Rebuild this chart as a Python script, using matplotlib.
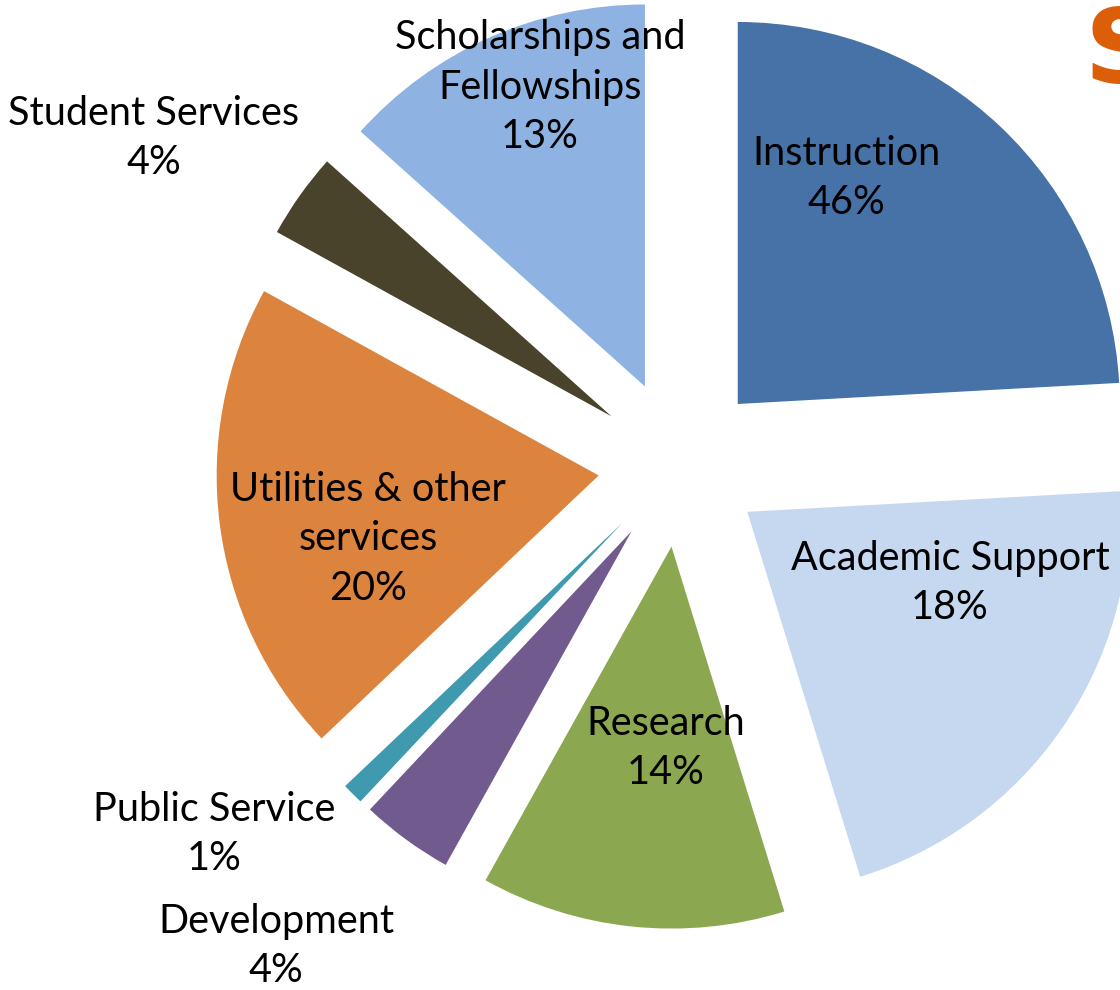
import matplotlib
matplotlib.use("Agg")
import matplotlib.pyplot as plt

categories = ["Instruction", "Academic Support", "Research", "Development",
              "Public Service", "Utilities & other\nservices", "Student Services",
              "Scholarships and\nFellowships"]
percent_labels = ["46%", "18%", "14%", "4%", "1%", "20%", "4%", "13%"]
# wedge sizes as drawn in the picture (angular share)
wedge_sizes = [24.0, 21.0, 12.8, 3.9, 0.9, 20.0, 3.6, 13.3]
colors = ["#4672a8", "#c6d8ef", "#8ba74f", "#715a8e", "#3f9ab0",
          "#dc843e", "#4a432b", "#8eb3e2"]

W, H = 1120, 990
fig = plt.figure(figsize=(W / 100, H / 100), dpi=100)
ax = fig.add_axes([0, 0, 1, 1])

radius = 382
center = (680, H - 465)
explode = [84, 82, 82, 82, 82, 82, 84, 86]
ax.pie(wedge_sizes, colors=colors, radius=radius, center=center,
       startangle=90, counterclock=False, explode=explode,
       wedgeprops=dict(linewidth=0), frame=True)
ax.set_xlim(0, W)
ax.set_ylim(0, H)
ax.set_aspect("equal")
ax.axis("off")

# label positions (pixel layout, y from top)
label_pos = [(846, 178), (950, 583), (666, 748), (276, 946),
             (214, 834), (368, 539), (154, 138), (540, 87)]
font = "Lato"
for cat, pct, (x, y) in zip(categories, percent_labels, label_pos):
    ax.text(x, H - y, f"{cat}\n{pct}", ha="center", va="center",
            multialignment="center", fontsize=28.5, family=font,
            color="black", linespacing=1.42)

ax.text(1082, H - 50, "$", ha="left", va="center", fontsize=88,
        fontweight="bold", color="#dc5e08", family="DejaVu Sans")

fig.savefig("out.png", dpi=100)
